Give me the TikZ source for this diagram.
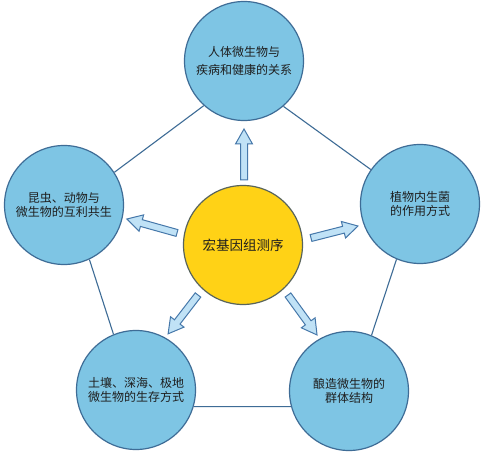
\documentclass[tikz,border=0pt]{standalone}
\usepackage{fontspec}
\newfontfamily\cjk{Noto Sans CJK SC}
\definecolor{bluefill}{RGB}{126,197,228}
\definecolor{blueline}{RGB}{62,108,150}
\definecolor{yelfill}{RGB}{255,210,22}
\definecolor{yelline}{RGB}{88,100,92}
\definecolor{arrfill}{RGB}{192,226,246}
\definecolor{arrline}{RGB}{70,120,170}
\definecolor{txt}{RGB}{30,30,30}
\tikzset{
  outer/.style={circle, draw=blueline, fill=bluefill, line width=1.2pt,
    minimum size=119pt, inner sep=0pt, align=center, text=txt,
    font=\cjk\fontsize{12}{14.5}\selectfont},
  hub/.style={circle, draw=yelline, fill=yelfill, line width=1.2pt,
    minimum size=119pt, inner sep=0pt, align=center, text=txt,
    font=\cjk\fontsize{13.5}{16}\selectfont},
  link/.style={draw=blueline, line width=1.1pt},
  arrowst/.style={draw=arrline, fill=arrfill, line width=1pt, line join=miter}
}
\newcommand\blockarrow[4]{%
  \begin{scope}[shift={(#1,#2)}, rotate=#3]
    \draw[arrowst] (0,3.5) -- (#4-15,3.5) -- (#4-15,8.5) -- (#4,0) --
      (#4-15,-8.5) -- (#4-15,-3.5) -- (0,-3.5) -- cycle;
  \end{scope}}
\begin{document}
\begin{tikzpicture}[x=1pt,y=-1pt]
\useasboundingbox (0,0) rectangle (482,454);
\fill[white] (0,0) rectangle (482,454);
\node[hub] (c) at (243,245) {宏基因组测序};
\node[outer, font=\cjk\fontsize{12}{18}\selectfont] (t) at (244,61) {人体微生物与\\疾病和健康的关系};
\node[outer] (l) at (64,205) {昆虫、动物与\\微生物的互利共生};
\node[outer] (r) at (420,204) {植物内生菌\\的作用方式};
\node[outer] (bl) at (136,390) {土壤、深海、极地\\微生物的生存方式};
\node[outer] (br) at (349,391) {酿造微生物的\\群体结构};
\draw[link] (t.228) -- (l.33);
\draw[link] (t.311) -- (r.145);
\draw[link] (l.295) -- (bl.112);
\draw[link] (r.247) -- (br.68);
\draw[link] (bl.344) -- (br.195);
\blockarrow{244}{180}{90}{51}
\blockarrow{311}{238}{14.3}{48.5}
\blockarrow{177}{233}{164.4}{52}
\blockarrow{198}{295}{232.4}{49}
\blockarrow{288}{295}{306}{49.4}
\end{tikzpicture}
\end{document}
